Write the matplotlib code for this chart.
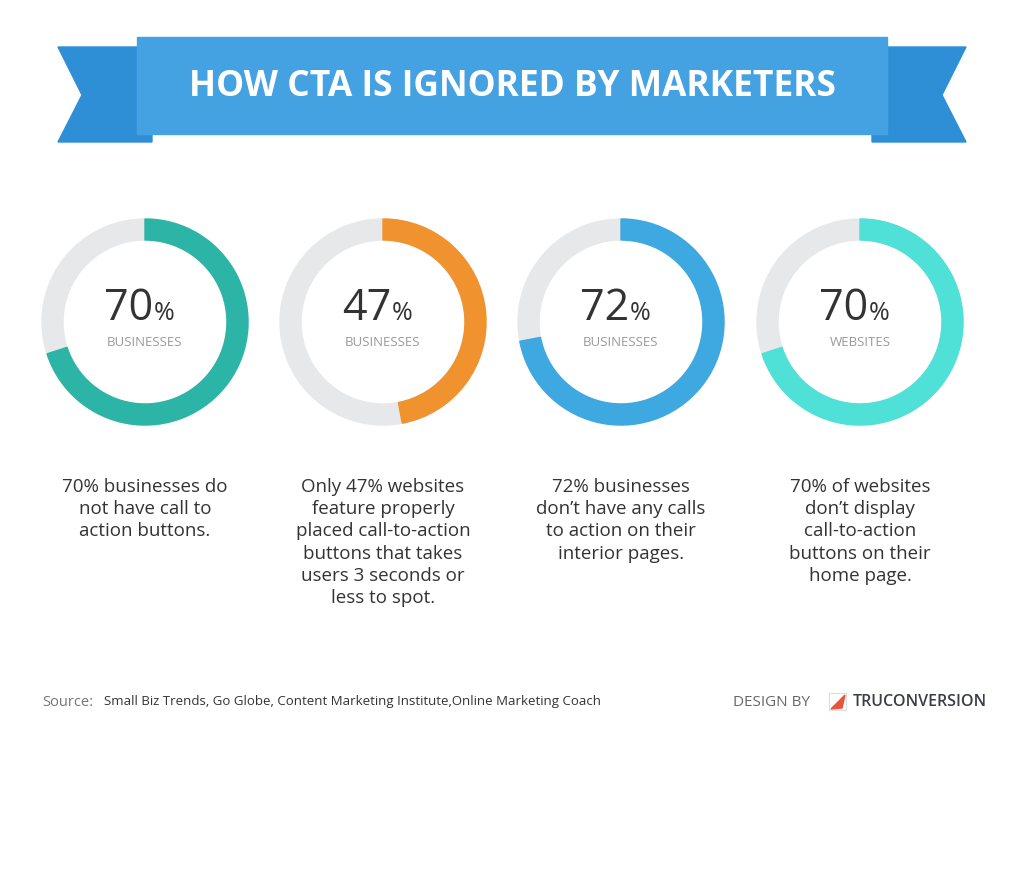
import matplotlib.pyplot as plt
from matplotlib.patches import Wedge, Polygon, Rectangle

title = "HOW CTA IS IGNORED BY MARKETERS"
values = [70, 47, 72, 70]
units = ["BUSINESSES", "BUSINESSES", "BUSINESSES", "WEBSITES"]
descriptions = [
    "70% businesses do\nnot have call to\naction buttons.",
    "Only 47% websites\nfeature properly\nplaced call-to-action\nbuttons that takes\nusers 3 seconds or\nless to spot.",
    "72% businesses\ndon\u2019t have any calls\nto action on their\ninterior pages.",
    "70% of websites\ndon\u2019t display\ncall-to-action\nbuttons on their\nhome page.",
]
colors = ["#2cb5a6", "#f0922e", "#3ea8e0", "#4fe0d8"]
source = "Small Biz Trends, Go Globe, Content Marketing Institute,Online Marketing Coach"

plt.rcParams["font.family"] = "Open Sans"
fig = plt.figure(figsize=(10.24, 8.96), dpi=100)
ax = fig.add_axes([0, 0, 1, 1])
ax.set_xlim(0, 1024)
ax.set_ylim(896, 0)
ax.axis("off")

# ribbon banner
ax.add_patch(Polygon([(58, 47), (152, 47), (152, 142), (58, 142), (82, 95)], color="#2f8fd6"))
ax.add_patch(Polygon([(966, 47), (872, 47), (872, 142), (966, 142), (942, 95)], color="#2f8fd6"))
ax.add_patch(Rectangle((137, 37), 750, 97, color="#44a2e3"))
ax.text(512, 87, title, ha="center", va="center", color="white",
        fontsize=25.5, fontweight="bold")

centers = [145, 383, 621, 860]
cy = 322
r = 103
for cx, v, unit, desc, c in zip(centers, values, units, descriptions, colors):
    ax.add_patch(Wedge((cx, cy), r, -90, 270, width=21, color="#e7e8ea"))
    ax.add_patch(Wedge((cx, cy), r, -90, -90 + 3.6 * v, width=21, color=c))
    ax.text(cx + 8, 320, f"{v}", ha="right", va="baseline", fontsize=31, color="#333333")
    ax.text(cx + 9, 320, "%", ha="left", va="baseline", fontsize=18, color="#333333")
    ax.text(cx, 342, unit, ha="center", va="center", fontsize=9.5, color="#9a9a9a")
    ax.text(cx, 478, desc, ha="center", va="top", fontsize=13.5, color="#333333",
            linespacing=1.3)

ax.text(42, 702, "Source:", ha="left", va="center", fontsize=10.5, color="#777777")
ax.text(104, 702, source, ha="left", va="center", fontsize=9.5, color="#333333")
ax.text(733, 702, "DESIGN BY", ha="left", va="center", fontsize=11, color="#666666")
# logo mark
ax.add_patch(Rectangle((829, 693), 17, 17, fill=False, ec="#dddddd", lw=0.8))
ax.add_patch(Polygon([(831, 709), (845, 695), (842, 708)], color="#e8553a"))
ax.text(853, 702, "TRUCONVERSION", ha="left", va="center", fontsize=11.5,
        color="#3a3f44", fontweight="semibold")

fig.savefig("out.png", dpi=100, facecolor="white")
